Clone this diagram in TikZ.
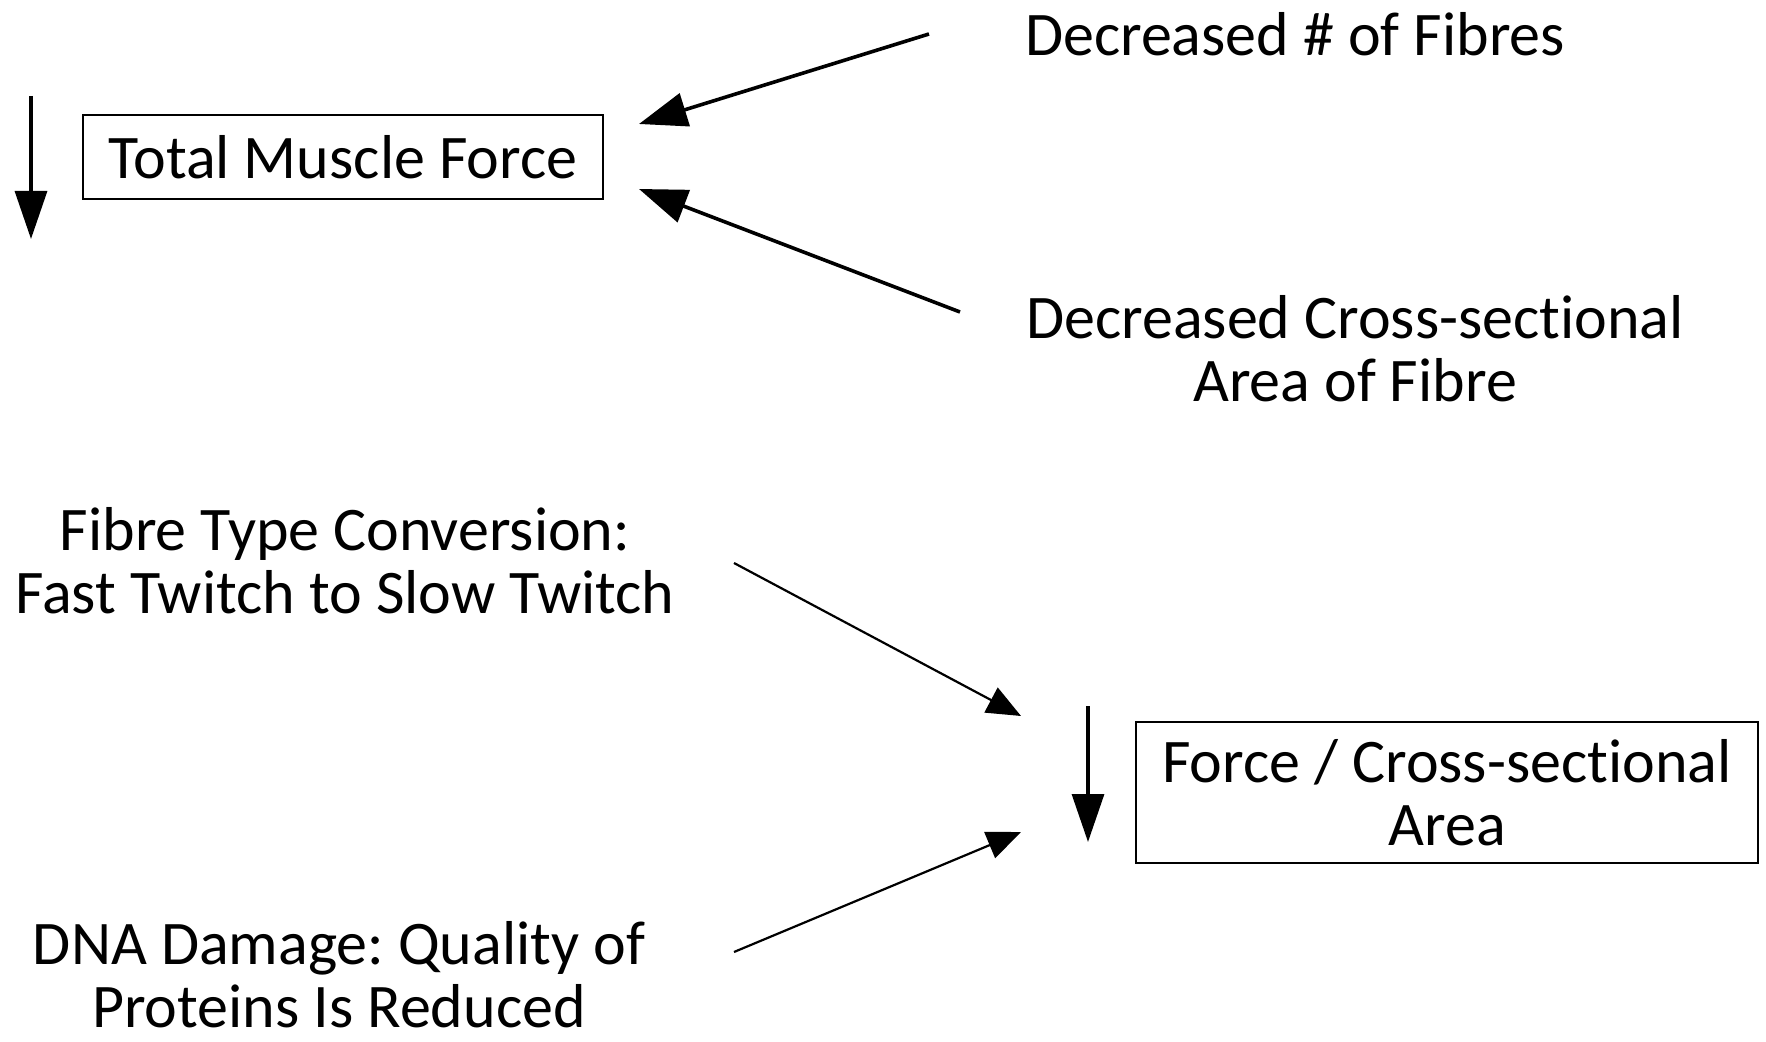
\documentclass[tikz,border=0pt]{standalone}
\usepackage{fontspec}
\setmainfont[Ligatures=NoCommon]{Carlito}
\usetikzlibrary{arrows.meta}
\frenchspacing
\begin{document}
\begin{tikzpicture}[x=0.5pt,y=-0.5pt,
  box/.style={draw=black,line width=1pt,inner sep=0pt,align=center},
  lbl/.style={inner sep=0pt,align=center},
  bigarrow/.style={line width=1.8pt,-{Triangle[length=24pt,width=17pt]}},
  thinarrow/.style={line width=1.1pt,-{Triangle[length=17pt,width=14pt]}},
  vertarrow/.style={line width=1.6pt,-{Triangle[length=24pt,width=16pt]}},
  every node/.style={font=\fontsize{31pt}{31.5pt}\selectfont}]
\useasboundingbox[fill=white] (0,0) rectangle (1766,1042);
% nodes
\node[box,minimum width=260pt,minimum height=42pt] (tmf) at (343,157) {\raisebox{-2pt}{Total Muscle Force}};
\node[box,minimum width=311pt,minimum height=70.5pt] (fcsa) at (1447,792.5) {Force / Cross-sectional\\Area};
\node[lbl] (dnf) at (1295,34) {Decreased \# of Fibres};
\node[lbl] (dcsa) at (1355,349) {Decreased Cross-sectional\\Area of Fibre};
\node[lbl] (ftc) at (345,561) {Fibre Type Conversion:\\Fast Twitch to Slow Twitch};
\node[lbl] (dna) at (339,975) {DNA Damage: Quality of\\Proteins Is Reduced};
% arrow end coordinates
\coordinate (a1s) at (31,96);   \coordinate (a1e) at (31,239);
\coordinate (a2s) at (929,34);  \coordinate (a2e) at (639,124);
\coordinate (a3s) at (960,312); \coordinate (a3e) at (639,189);
\coordinate (a4s) at (734,563); \coordinate (a4e) at (1021,716);
\coordinate (a5s) at (734,952); \coordinate (a5e) at (1021,832);
\coordinate (a6s) at (1088,706); \coordinate (a6e) at (1088,842);
% connectors
\draw[vertarrow] (a1s) -- (a1e);
\draw[bigarrow] (a2s) -- (a2e);
\draw[bigarrow] (a3s) -- (a3e);
\draw[thinarrow] (a4s) -- (a4e);
\draw[thinarrow] (a5s) -- (a5e);
\draw[vertarrow] (a6s) -- (a6e);
\end{tikzpicture}
\end{document}
